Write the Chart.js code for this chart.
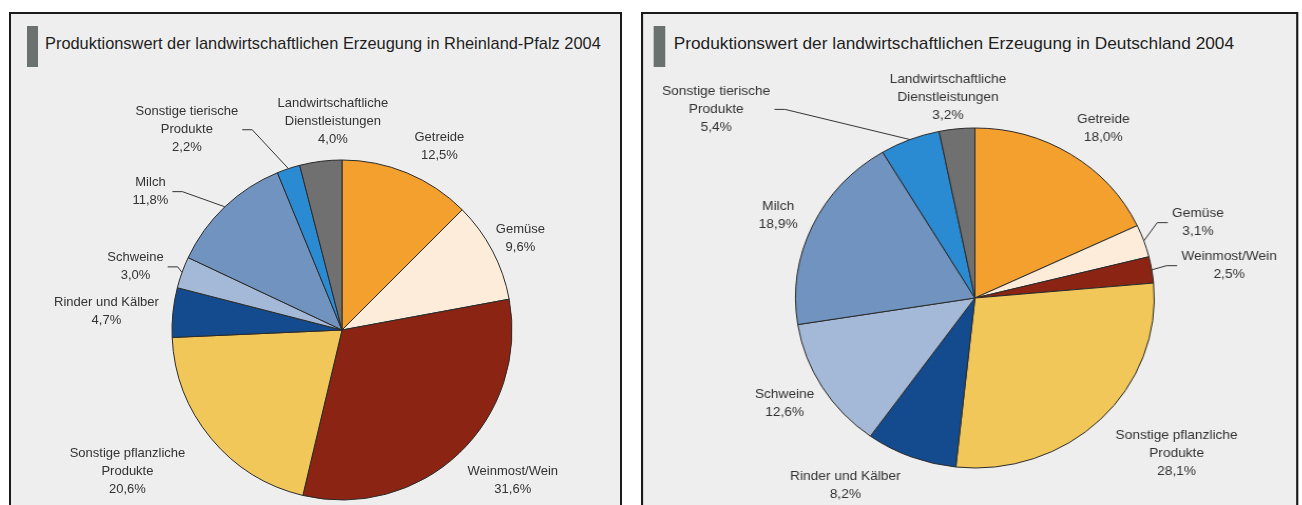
<!DOCTYPE html>
<html lang="de">
<head>
<meta charset="utf-8">
<title>Produktionswert der landwirtschaftlichen Erzeugung 2004</title>
<script src="https://cdn.jsdelivr.net/npm/chart.js@4.4.1/dist/chart.umd.min.js"></script>
<style>
  html, body { margin: 0; padding: 0; background: #fff; width: 1302px; height: 505px; overflow: hidden; }
  .panel {
    position: absolute; top: 12px; height: 520px;
    background: #eeeeee; border: 2px solid #1a1a1a; box-sizing: border-box;
    font-family: "Liberation Sans", Arial, sans-serif;
  }
  #panel-rp { left: 9px; width: 613px; }
  #panel-de { left: 641px; width: 623px; transform: scaleX(1.055); transform-origin: 0 0; }
  .marker { position: absolute; top: 12px; height: 41px; background: #6b716f; }
  .titel { position: absolute; top: 20px; font-size: 16.4px; color: #1e1e1e; white-space: nowrap; }
  canvas { position: absolute; left: 0; top: 0; }
</style>
</head>
<body>

<div class="panel" id="panel-rp">
  <div class="marker" style="left:16px; width:11px;"></div>
  <div class="titel" style="left:34px;">Produktionswert der landwirtschaftlichen Erzeugung in Rheinland-Pfalz 2004</div>
  <canvas id="pie-rp" width="609" height="491"></canvas>
</div>

<div class="panel" id="panel-de">
  <div class="marker" style="left:10px; width:11px;"></div>
  <div class="titel" style="left:29px;">Produktionswert der landwirtschaftlichen Erzeugung in Deutschland 2004</div>
  <canvas id="pie-de" width="619" height="491"></canvas>
</div>

<script>
// Kategorien (Zeilenumbrüche wie in der Beschriftung)
const kategorien = [
  ['Getreide'],
  ['Gemüse'],
  ['Weinmost/Wein'],
  ['Sonstige pflanzliche', 'Produkte'],
  ['Rinder und Kälber'],
  ['Schweine'],
  ['Milch'],
  ['Sonstige tierische', 'Produkte'],
  ['Landwirtschaftliche', 'Dienstleistungen']
];

// Anteile am Produktionswert 2004 in %
const anteileRheinlandPfalz = [12.5, 9.6, 31.6, 20.6, 4.7, 3.0, 11.8, 2.2, 4.0];
const anteileDeutschland = [18.0, 3.1, 2.5, 28.1, 8.2, 12.6, 18.9, 5.4, 3.2];

const farben = [
  '#f4a02e', // Getreide
  '#fcecd9', // Gemüse
  '#8c2414', // Weinmost/Wein
  '#f1c75a', // Sonstige pflanzliche Produkte
  '#134b8e', // Rinder und Kälber
  '#a3b9d7', // Schweine
  '#7093bf', // Milch
  '#2b8bd2', // Sonstige tierische Produkte
  '#707070'  // Dienstleistungen
];

// Lage der Beschriftungen: Drehung gegenüber der Segmentmitte (Grad) und Abstand in Radien
const beschriftungRP = [
  { shift: 5.5, dist: 1.22 },
  { shift: 0.5, dist: 1.18 },
  { shift: -5, dist: 1.34 },
  { shift: 6.3, dist: 1.51 },
  { shift: -1.5, dist: 1.39 },
  { shift: -2.8, dist: 1.27, leader: true },
  { shift: -10.6, dist: 1.39, leader: true },
  { shift: -19.4, dist: 1.49, leader: true },
  { shift: 4.7, dist: 1.23 }
];
const beschriftungDE = [
  { shift: 3.2, dist: 1.23 },
  { shift: 0, dist: 1.32, leader: true },
  { shift: 1.9, dist: 1.43, leader: true },
  { shift: -6.4, dist: 1.45 },
  { shift: 12.3, dist: 1.32 },
  { shift: 1.3, dist: 1.23 },
  { shift: -1.1, dist: 1.20 },
  { shift: -31.2, dist: 1.82, leader: true },
  { shift: -1.5, dist: 1.19 }
];

function prozent(v) {
  return v.toFixed(1).replace('.', ',') + '%';
}

// Beschriftungen außerhalb des Kreises, teils mit Führungslinie
const aussenBeschriftung = {
  id: 'aussenBeschriftung',
  afterDatasetsDraw(chart, args, opts) {
    const ctx = chart.ctx;
    const meta = chart.getDatasetMeta(0);
    const werte = chart.data.datasets[0].data;
    const zeilenHoehe = 18;
    ctx.save();
    ctx.font = '13px "Liberation Sans", Arial, sans-serif';
    ctx.textAlign = 'center';
    ctx.textBaseline = 'middle';
    meta.data.forEach((arc, i) => {
      const p = opts.lage[i];
      const mitte = (arc.startAngle + arc.endAngle) / 2;
      const winkel = mitte + p.shift * Math.PI / 180;
      const r = arc.outerRadius;
      const x = arc.x + Math.cos(winkel) * r * p.dist;
      const y = arc.y + Math.sin(winkel) * r * p.dist;
      const zeilen = chart.data.labels[i].concat([prozent(werte[i])]);
      const breite = Math.max(...zeilen.map(z => ctx.measureText(z).width));

      ctx.fillStyle = '#333333';
      zeilen.forEach((z, k) => {
        ctx.fillText(z, x, y + (k - (zeilen.length - 1) / 2) * zeilenHoehe);
      });

      if (p.leader) {
        const px = arc.x + Math.cos(mitte) * r;
        const py = arc.y + Math.sin(mitte) * r;
        const richtung = x < px ? 1 : -1;
        const ex = x + richtung * (breite / 2 + 4);
        const kx = ex + richtung * 10;
        ctx.strokeStyle = '#333333';
        ctx.lineWidth = 1;
        ctx.beginPath();
        ctx.moveTo(ex, y);
        ctx.lineTo(kx, y);
        ctx.lineTo(px, py);
        ctx.stroke();
      }
    });
    ctx.restore();
  }
};

function kreisDiagramm(id, werte, lage, padding) {
  const ctx = document.getElementById(id).getContext('2d');
  return new Chart(ctx, {
    type: 'pie',
    data: {
      labels: kategorien,
      datasets: [{
        data: werte,
        backgroundColor: farben,
        borderColor: '#2a2a2a',
        borderWidth: 1,
        hoverOffset: 0
      }]
    },
    options: {
      responsive: false,
      animation: false,
      radius: 170,
      layout: { padding: padding },
      plugins: {
        legend: { display: false },
        tooltip: { enabled: false },
        aussenBeschriftung: { lage: lage }
      }
    },
    plugins: [aussenBeschriftung]
  });
}

kreisDiagramm('pie-rp', anteileRheinlandPfalz, beschriftungRP, { left: 53, right: 0, top: 141, bottom: 0 });
kreisDiagramm('pie-de', anteileDeutschland, beschriftungDE, { left: 10, right: 0, top: 77, bottom: 0 });
</script>
</body>
</html>
